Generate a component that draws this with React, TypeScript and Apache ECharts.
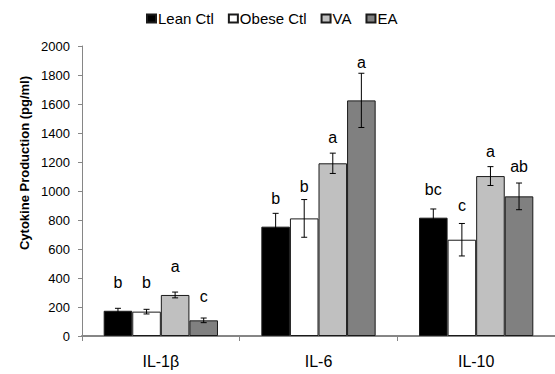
import React, { useEffect, useRef } from "react";
import * as echarts from "echarts";

const categories = ["IL-1β", "IL-6", "IL-10"];
const seriesNames = ["Lean Ctl", "Obese Ctl", "VA", "EA"];
const seriesColors = ["#000000", "#ffffff", "#c0c0c0", "#808080"];

const leanCtl = [174, 754, 816];
const obeseCtl = [168, 811, 664];
const va = [283, 1191, 1103];
const ea = [108, 1625, 963];

const leanCtlErr = [17, 92, 60];
const obeseCtlErr = [16, 130, 112];
const vaErr = [20, 70, 65];
const eaErr = [16, 187, 92];

const leanCtlLetters = ["b", "b", "bc"];
const obeseCtlLetters = ["b", "b", "c"];
const vaLetters = ["a", "a", "a"];
const eaLetters = ["c", "a", "ab"];

// value (pg/ml) at which each significance letter sits
const leanCtlLetterAt = [372, 945, 1007];
const obeseCtlLetterAt = [372, 1028, 897];
const vaLetterAt = [476, 1372, 1269];
const eaLetterAt = [269, 1883, 1166];

const yTicks = { min: 0, max: 2000, interval: 200 };

const allValues = [leanCtl, obeseCtl, va, ea];
const allErrs = [leanCtlErr, obeseCtlErr, vaErr, eaErr];
const allLetters = [leanCtlLetters, obeseCtlLetters, vaLetters, eaLetters];
const allLetterAt = [leanCtlLetterAt, obeseCtlLetterAt, vaLetterAt, eaLetterAt];

const FONT = '"Liberation Sans", Arial, sans-serif';
const CAT_GAP = 0.275;

export default function App() {
  const ref = useRef<HTMLDivElement>(null);
  useEffect(() => {
    if (!ref.current) return;
    const chart = echarts.init(ref.current, null, { renderer: "svg" });
    const n = seriesNames.length;

    const barSeries = seriesNames.map((name, s) => ({
      name,
      type: "bar",
      data: allValues[s],
      barGap: "0%",
      barCategoryGap: CAT_GAP * 100 + "%",
      itemStyle: {
        color: seriesColors[s],
        borderColor: "#1a1a1a",
        borderWidth: 1,
      },
      z: 2,
    }));

    const errSeries = seriesNames.map((name, s) => ({
      name: "err-" + name,
      type: "custom",
      z: 5,
      clip: false,
      data: categories.map((_, i) => [
        i,
        allValues[s][i],
        allErrs[s][i],
        allLetterAt[s][i],
      ]),
      renderItem: (params: any, api: any) => {
        const ci = api.value(0);
        const v = api.value(1);
        const e = api.value(2);
        const la = api.value(3);
        const band = api.size([1, 0])[0];
        const bw = (band * (1 - CAT_GAP)) / n;
        const x = api.coord([ci, 0])[0] + (s - (n - 1) / 2) * bw;
        const yTop = api.coord([ci, v + e])[1];
        const yBot = api.coord([ci, v - e])[1];
        const yL = api.coord([ci, la])[1];
        const cap = 3;
        const ls = { stroke: "#000", lineWidth: 1 };
        return {
          type: "group",
          children: [
            { type: "line", shape: { x1: x, y1: yTop, x2: x, y2: yBot }, style: ls },
            { type: "line", shape: { x1: x - cap, y1: yTop, x2: x + cap, y2: yTop }, style: ls },
            { type: "line", shape: { x1: x - cap, y1: yBot, x2: x + cap, y2: yBot }, style: ls },
            {
              type: "text",
              x,
              y: yL,
              style: {
                text: allLetters[s][params.dataIndex],
                font: "16px " + FONT,
                fill: "#000",
                align: "center",
                verticalAlign: "middle",
              },
            },
          ],
        };
      },
    }));

    chart.setOption({
      animation: false,
      backgroundColor: "#ffffff",
      textStyle: { fontFamily: FONT },
      legend: {
        data: seriesNames,
        top: 6,
        left: 141,
        icon: "rect",
        itemWidth: 9,
        itemHeight: 8,
        itemGap: 14,
        textStyle: { fontSize: 15, color: "#000", fontFamily: FONT, padding: [0, 0, 0, -3] },
      },
      grid: { left: 82, top: 46, width: 480, height: 290 },
      xAxis: {
        type: "category",
        data: categories,
        axisLine: { lineStyle: { color: "#868686", width: 2 } },
        axisTick: { show: true, length: 5, lineStyle: { color: "#868686" } },
        axisLabel: { color: "#000", fontSize: 16, margin: 17, fontFamily: FONT },
      },
      yAxis: {
        type: "value",
        min: yTicks.min,
        max: yTicks.max,
        interval: yTicks.interval,
        axisLine: { show: true, lineStyle: { color: "#868686", width: 1 } },
        axisTick: { show: true, length: 4, lineStyle: { color: "#868686" } },
        splitLine: { show: false },
        axisLabel: {
          color: "#000",
          fontSize: 13,
          margin: 12,
          fontFamily: FONT,
          formatter: (v: number) => String(v),
        },
      },
      graphic: [
        {
          type: "text",
          x: 24,
          y: 163,
          rotation: Math.PI / 2,
          style: {
            text: "Cytokine Production (pg/ml)",
            font: "bold 13px " + FONT,
            fill: "#000",
            align: "center",
            verticalAlign: "middle",
          },
        },
      ],
      series: [...barSeries, ...errSeries],
    });
    return () => chart.dispose();
  }, []);
  return (
    <div
      ref={ref}
      style={{ position: "fixed", left: 0, top: 0, width: 555, height: 374 }}
    />
  );
}
